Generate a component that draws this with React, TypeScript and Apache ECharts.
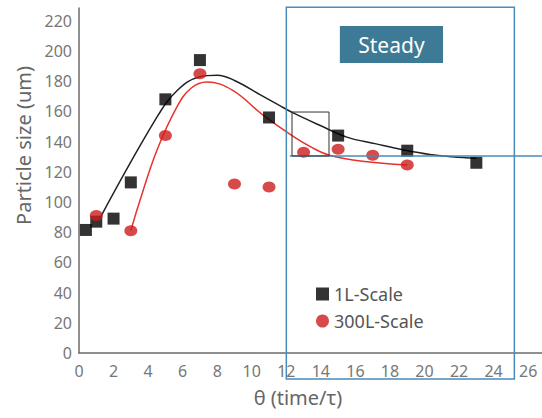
import React, { useEffect, useRef } from "react";
import * as echarts from "echarts";

// 1L-Scale measured points
const scale1LX = [0.4, 1, 2, 3, 5, 7, 11, 15, 19, 23];
const scale1LY = [81.5, 87, 89, 113, 168, 194, 156, 144, 134, 126];
// 300L-Scale measured points
const scale300LX = [1, 3, 5, 7, 9, 11, 13, 15, 17, 19];
const scale300LY = [91, 81, 144, 185, 112, 110, 133, 135, 131, 124.5];
// fitted trend curves
const fit1LX = [1.2, 4.5, 5.7, 7, 8, 9, 10.5, 11.6, 12.4, 13.9, 15.5, 17.2, 18.8, 20.3, 21.6, 23];
const fit1LY = [89, 156, 174, 183, 184, 180.5, 171, 164, 159, 151, 143, 138.5, 134.5, 131.5, 130, 129];
const fit300LX = [3, 3.5, 4.5, 5.67, 6.5, 7.4, 8.9, 10.6, 12.2, 13.5, 14.5, 16.4, 19];
const fit300LY = [81, 100, 134, 163, 175.5, 179.5, 174, 158, 145, 136, 131, 127, 124.5];
// axis ticks
const xTicks = [0, 2, 4, 6, 8, 10, 12, 14, 16, 18, 20, 22, 24, 26];
const yTicks = [0, 20, 40, 60, 80, 100, 120, 140, 160, 180, 200, 220];
// annotations in data coordinates
const steadyBox = [12, -17.2, 25.2, 229];
const steadyLabelBox = [15.1, 192, 21.07, 216.6];
const steadyLevel = [12.2, 130.5, 26.8];
const zoomBox = [12.33, 130.5, 14.47, 159.6];

const FONT = "Noto Sans";

export default function App() {
  const ref = useRef<HTMLDivElement>(null);
  useEffect(() => {
    if (!ref.current) return;
    document.body.style.margin = "0";
    const chart = echarts.init(ref.current, undefined, { renderer: "svg" });
    const zip = (xs: number[], ys: number[]) => xs.map((x, i) => [x, ys[i]]);
    chart.setOption({
      animation: false,
      textStyle: { fontFamily: FONT },
      grid: { left: 79, right: 0, top: 8, bottom: 65 },
      legend: {
        orient: "vertical",
        left: 311,
        top: 280,
        itemGap: 9,
        itemWidth: 13,
        itemHeight: 13,
        data: ["1L-Scale", "300L-Scale"],
        textStyle: { fontSize: 18, color: "#555", lineHeight: 18, fontFamily: FONT },
      },
      xAxis: {
        type: "value",
        min: 0,
        max: 26.8,
        interval: 2,
        name: "θ (time/τ)",
        nameLocation: "middle",
        nameGap: 34,
        nameTextStyle: { fontSize: 20, color: "#666", fontFamily: FONT, padding: [0, 25, 0, 0] },
        axisLine: { lineStyle: { color: "#6b6b6b", width: 1.5 } },
        axisTick: { show: false },
        splitLine: { show: false },
        axisLabel: {
          fontSize: 16,
          color: "#777",
          margin: 10,
          showMaxLabel: false,
          formatter: (v: number) => (xTicks.includes(v) ? String(v) : ""),
        },
      },
      yAxis: {
        type: "value",
        min: 0,
        max: 228.5,
        interval: 20,
        name: "Particle size (um)",
        nameLocation: "middle",
        nameGap: 45,
        nameTextStyle: { fontSize: 20, color: "#666", fontFamily: FONT, padding: [0, 0, 0, 70] },
        axisLine: { show: true, lineStyle: { color: "#6b6b6b", width: 1.5 } },
        axisTick: { show: false },
        splitLine: { show: false },
        axisLabel: {
          fontSize: 16,
          color: "#777",
          margin: 7,
          showMaxLabel: false,
          formatter: (v: number) => (yTicks.includes(v) ? String(v) : ""),
        },
      },
      series: [
        {
          name: "fit1L",
          type: "line",
          data: zip(fit1LX, fit1LY),
          smooth: 0.4,
          showSymbol: false,
          lineStyle: { color: "#222", width: 1.5 },
          z: 2,
        },
        {
          name: "fit300L",
          type: "line",
          data: zip(fit300LX, fit300LY),
          smooth: 0.4,
          showSymbol: false,
          lineStyle: { color: "#e8322c", width: 1.5 },
          z: 2,
        },
        {
          name: "1L-Scale",
          type: "scatter",
          symbol: "rect",
          symbolSize: 12,
          data: zip(scale1LX, scale1LY),
          itemStyle: { color: "#000" },
          z: 3,
        },
        {
          name: "300L-Scale",
          type: "scatter",
          symbol: "circle",
          symbolSize: [13, 11],
          data: zip(scale300LX, scale300LY),
          itemStyle: { color: "#cc1d1d" },
          z: 3,
        },
      ],
    });

    const px = (x: number, y: number) =>
      chart.convertToPixel({ xAxisIndex: 0, yAxisIndex: 0 }, [x, y]) as number[];
    const [b0x, b0y] = px(steadyBox[0], steadyBox[3]);
    const [b1x, b1y] = px(steadyBox[2], steadyBox[1]);
    const [l0x, l0y] = px(steadyLabelBox[0], steadyLabelBox[3]);
    const [l1x, l1y] = px(steadyLabelBox[2], steadyLabelBox[1]);
    const [h0x, hy] = px(steadyLevel[0], steadyLevel[1]);
    const [h1x] = px(steadyLevel[2], steadyLevel[1]);
    const [z0x, z0y] = px(zoomBox[0], zoomBox[3]);
    const [z1x, z1y] = px(zoomBox[2], zoomBox[1]);

    chart.setOption({
      graphic: [
        {
          type: "rect",
          shape: { x: b0x, y: b0y, width: b1x - b0x, height: b1y - b0y },
          style: { fill: "none", stroke: "#4a8bbb", lineWidth: 1.5 },
          z: 10,
        },
        {
          type: "rect",
          shape: { x: l0x, y: l0y, width: l1x - l0x, height: l1y - l0y },
          style: { fill: "#3d7a95" },
          z: 10,
        },
        {
          type: "text",
          x: (l0x + l1x) / 2,
          y: (l0y + l1y) / 2,
          style: {
            text: "Steady",
            fill: "#fff",
            fontSize: 21,
            fontFamily: FONT,
            align: "center",
            verticalAlign: "middle",
          },
          z: 11,
        },
        {
          type: "line",
          shape: { x1: h0x, y1: hy, x2: h1x, y2: hy },
          style: { stroke: "#4a8bbb", lineWidth: 1.5 },
          z: 10,
        },
        {
          type: "rect",
          shape: { x: z0x, y: z0y, width: z1x - z0x, height: z1y - z0y },
          style: { fill: "none", stroke: "#333", lineWidth: 1 },
          z: 10,
        },
      ],
    });

    return () => chart.dispose();
  }, []);
  return <div ref={ref} style={{ width: 542, height: 418 }} />;
}
